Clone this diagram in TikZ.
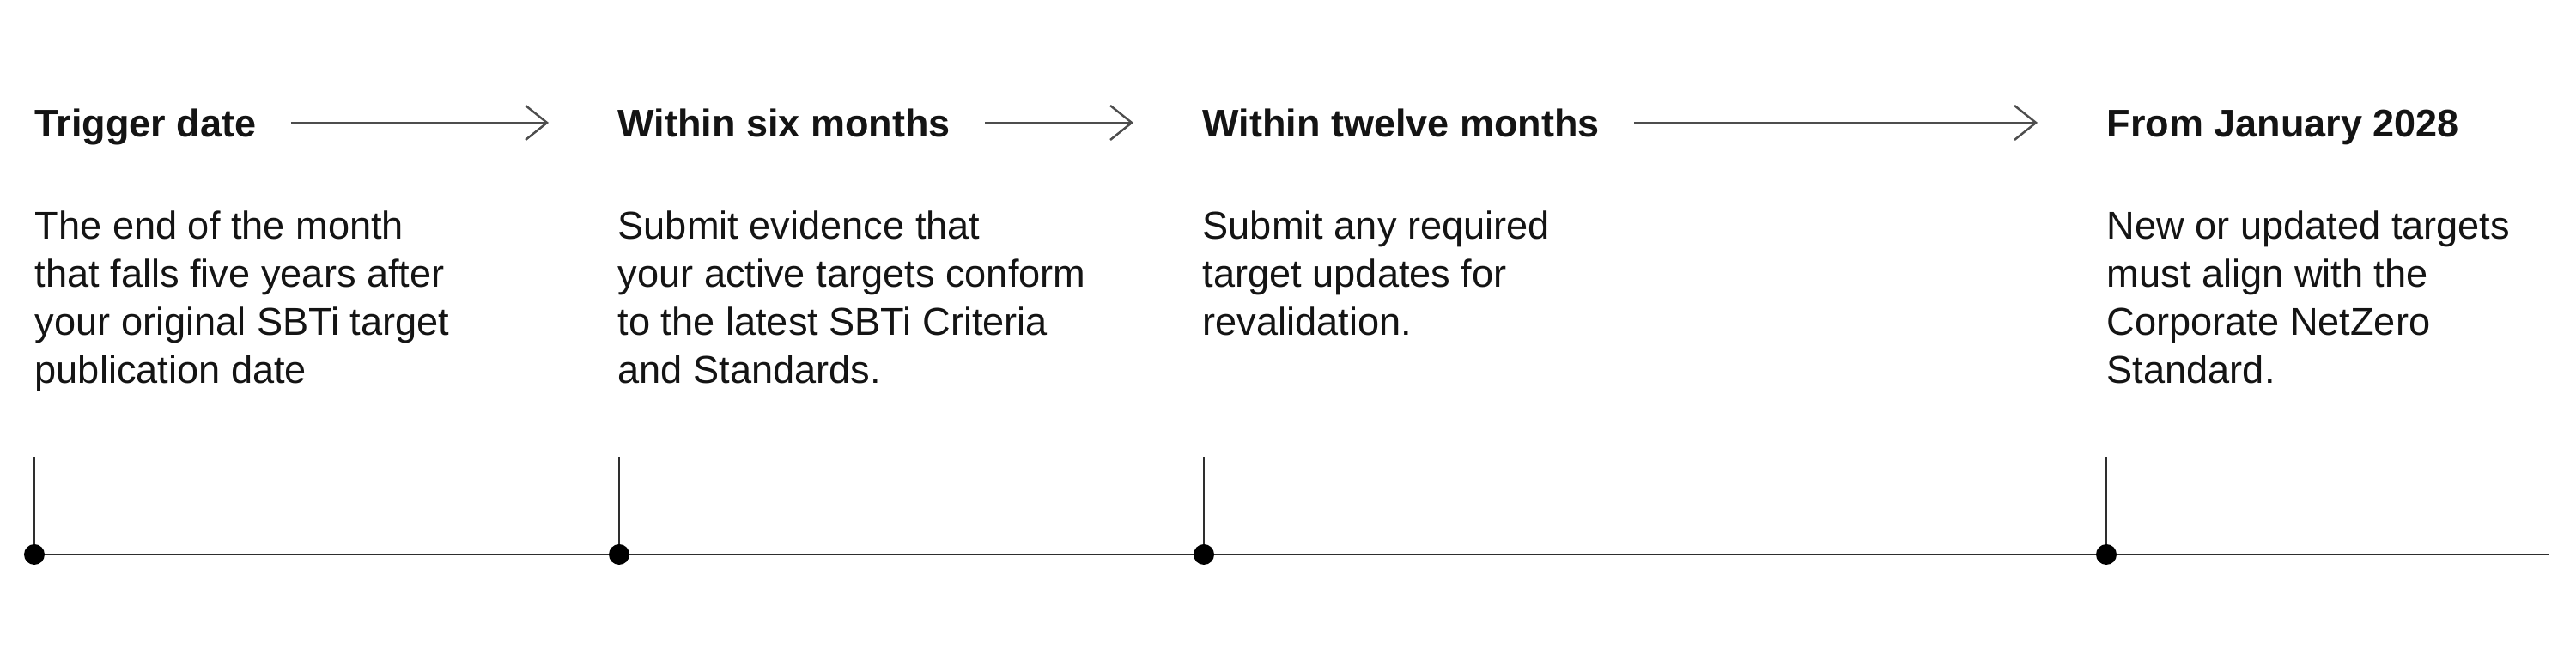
\documentclass[tikz,border=0pt]{standalone}
\usepackage{fontspec}
\setmainfont{Liberation Sans}
\usepackage{xcolor}
\usepackage{tikz}
\usetikzlibrary{arrows.meta,positioning}
\definecolor{ink}{HTML}{141414}
\definecolor{rulegray}{HTML}{2E2E2E}

\begin{document}
\begin{tikzpicture}[
    node distance=0.85cm,
    stage/.style={anchor=base west, inner sep=0pt, text height=0.34cm, text depth=0pt, font=\fontsize{12.8}{15.4}\selectfont\bfseries, text=ink},
    note/.style={anchor=north west, inner sep=0pt, align=left, font=\fontsize{12.85}{15.9}\selectfont, text=ink},
    dot/.style={circle, fill=black, inner sep=0pt, minimum size=0.24cm},
    tick/.style={draw=rulegray, line width=0.6pt},
    flow/.style={draw=rulegray!85, line width=0.7pt, -{Straight Barb[length=0.25cm, width=0.4cm, line width=0.7pt]}, shorten <=0.4cm, shorten >=0.8cm}
]
\useasboundingbox (0,0) rectangle (30,7.63);

% Stage titles
\node[stage] (t1) at (0.40,6.03) {Trigger date};
\node[stage] (t2) at (7.19,6.03) {Within six months};
\node[stage] (t3) at (14.00,6.03) {Within twelve months};
\node[stage] (t4) at (24.53,6.03) {From January 2028};

% Stage notes
\node[note, below=of t1.base west, anchor=north west] (n1) {The end of the month\\that falls five years after\\your original SBTi target\\publication date};
\node[note, below=of t2.base west, anchor=north west] (n2) {Submit evidence that\\your active targets conform\\to the latest SBTi Criteria\\and Standards.};
\node[note, below=of t3.base west, anchor=north west] (n3) {Submit any required\\target updates for\\revalidation.};
\node[note, below=of t4.base west, anchor=north west] (n4) {New or updated targets\\must align with the\\Corporate NetZero\\Standard.};

% Arrows
\draw[flow] (t1.east) -- (t2.west);
\draw[flow] (t2.east) -- (t3.west);
\draw[flow] (t3.east) -- (t4.west);

% Timeline
\coordinate (d1) at (0.40,1.17);
\coordinate (d2) at (7.21,1.17);
\coordinate (d3) at (14.02,1.17);
\coordinate (d4) at (24.53,1.17);
\coordinate (tend) at (29.68,1.17);
\draw[tick, line width=0.8pt] (d1) -- (tend);
\foreach \i in {1,...,4}{
  \draw[tick] (d\i) -- ++(0,1.14);
  \node[dot] (p\i) at (d\i) {};
}
\end{tikzpicture}
\end{document}
